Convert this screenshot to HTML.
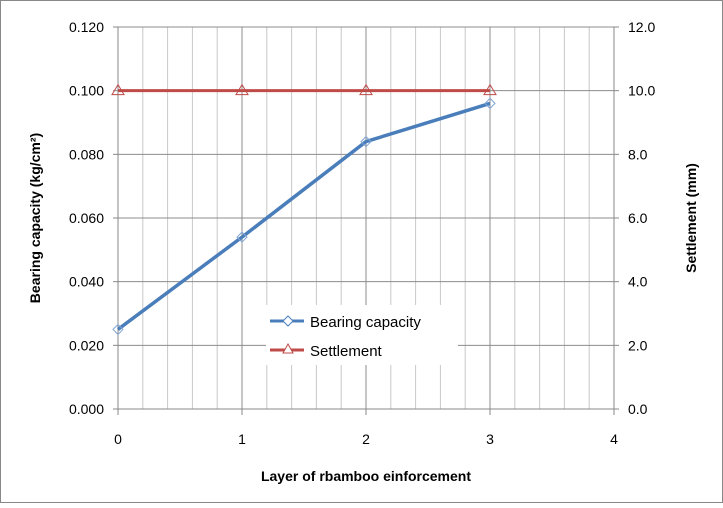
<!DOCTYPE html>
<html><head><meta charset="utf-8"><style>
body{margin:0;background:#fff;}
svg text{font-family:"Liberation Sans",sans-serif;}
</style></head><body>
<svg id="c" width="723" height="503" xmlns="http://www.w3.org/2000/svg">
<rect x="0.5" y="0.5" width="722" height="502" fill="#fff" stroke="#888"/>
<g id="grid"></g>
<g id="axes"></g>
<g id="series"></g>
<text x="366" y="481" text-anchor="middle" font-size="14" font-weight="bold">Layer of rbamboo einforcement</text>
<text transform="translate(40,218) rotate(-90)" text-anchor="middle" font-size="14" font-weight="bold">Bearing capacity (kg/cm²)</text>
<text transform="translate(696,218) rotate(-90)" text-anchor="middle" font-size="14" font-weight="bold">Settlement (mm)</text>
<g>
<rect x="266" y="305" width="192" height="60" fill="#fff"/>
<g>
<line x1="270" y1="321" x2="304" y2="321" stroke="#4a7ebb" stroke-width="3"/>
<path d="M288 316 L293 321 L288 326 L283 321 Z" fill="#fff" stroke="#4a7ebb"/>
<text x="310" y="327" font-size="15">Bearing capacity</text></g>
<g>
<line x1="270" y1="350" x2="304" y2="350" stroke="#be4b48" stroke-width="3"/>
<path d="M288 344 L293 353 L283 353 Z" fill="#fff" stroke="#be4b48"/>
<text x="310" y="356" font-size="15">Settlement</text></g>
</g>
</svg>
<script>
const categories=[0,1,2,3];
const bearing=[0.025,0.054,0.084,0.096];
const settlement=[10,10,10,10];
const leftTicks=["0.000","0.020","0.040","0.060","0.080","0.100","0.120"];
const rightTicks=["0.0","2.0","4.0","6.0","8.0","10.0","12.0"];
const xTicks=["0","1","2","3","4"];
const NS="http://www.w3.org/2000/svg";
const X0=118,X1=614,Y0=409,Y1=27;
const xs=v=>X0+(v/4)*(X1-X0);
const yl=v=>Y0-(v/0.12)*(Y0-Y1);
const yr=v=>Y0-(v/12)*(Y0-Y1);
function mk(t,a,p){const e=document.createElementNS(NS,t);for(const k in a)e.setAttribute(k,a[k]);p.appendChild(e);return e;}
const g=document.getElementById('grid'),ax=document.getElementById('axes'),s=document.getElementById('series');
for(let i=0;i<=20;i++){const x=xs(i/5);const l=mk('line',{x1:x,y1:Y1,x2:x,y2:Y0,stroke:i%5?'#c8c8c8':'#8c8c8c'},g);

}
leftTicks.forEach((t,i)=>{const y=yl(i*0.02);const l=mk('line',{x1:X0,y1:y,x2:X1,y2:y,stroke:'#8c8c8c'},g);


mk('line',{x1:X0-5,y1:y,x2:X0,y2:y,stroke:'#888'},ax);mk('line',{x1:X1,y1:y,x2:X1+5,y2:y,stroke:'#888'},ax);
const a=mk('text',{x:X0-14,y:y+5,'text-anchor':'end','font-size':14},ax);a.textContent=t;


const b=mk('text',{x:X1+14,y:y+5,'font-size':14},ax);b.textContent=rightTicks[i];

});
xTicks.forEach((t,i)=>{const x=xs(+t);mk('line',{x1:x,y1:Y0,x2:x,y2:Y0+6,stroke:'#888'},ax);
const a=mk('text',{x:x,y:Y0+35,'text-anchor':'middle','font-size':14},ax);a.textContent=t;

});
mk('line',{x1:X0,y1:Y1,x2:X0,y2:Y0,stroke:'#888'},ax);mk('line',{x1:X1,y1:Y1,x2:X1,y2:Y0,stroke:'#888'},ax);mk('line',{x1:X0,y1:Y0,x2:X1,y2:Y0,stroke:'#888'},ax);
const sp=mk('polyline',{points:categories.map((c,i)=>xs(c)+','+yr(settlement[i])).join(' '),fill:'none',stroke:'#be4b48','stroke-width':3},s);


const bp=mk('polyline',{points:categories.map((c,i)=>xs(c)+','+yl(bearing[i])).join(' '),fill:'none',stroke:'#4a7ebb','stroke-width':3.5},s);


categories.forEach((c,i)=>{const x=xs(c),y=yl(bearing[i]);
const d=mk('path',{d:`M${x} ${y-5} L${x+5} ${y} L${x} ${y+5} L${x-5} ${y} Z`,fill:'none',stroke:'#7fa3d4'},s);


const y2=yr(settlement[i]);
const t=mk('path',{d:`M${x} ${y2-6} L${x+6} ${y2+4} L${x-6} ${y2+4} Z`,fill:'none',stroke:'#be4b48'},s);

});
</script>
</body></html>
